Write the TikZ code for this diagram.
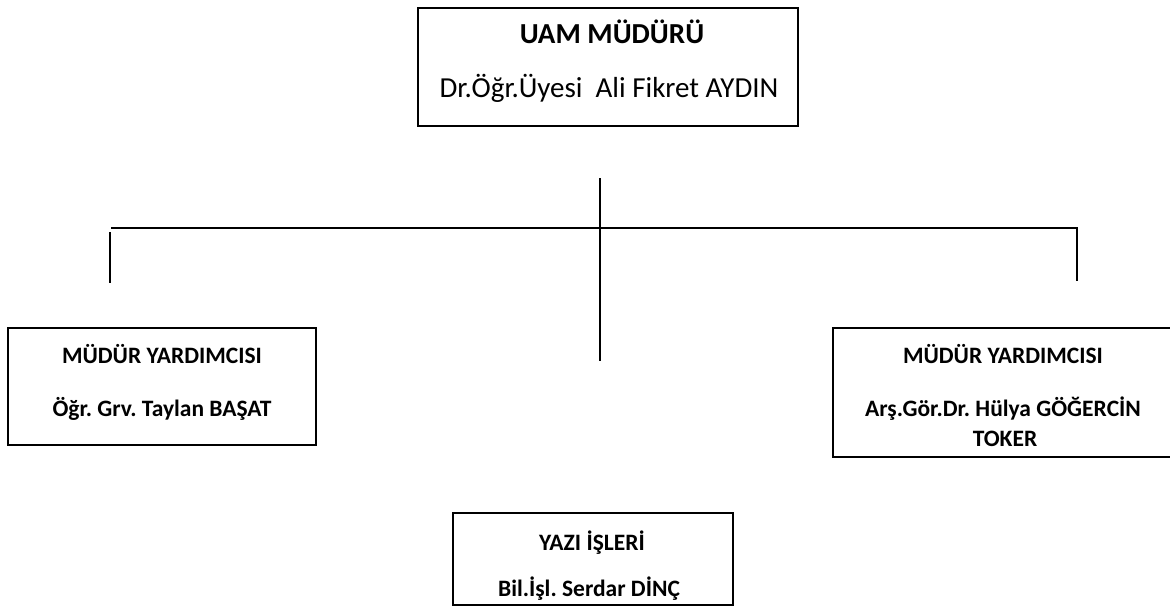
\documentclass[tikz,border=0pt]{standalone}
\usepackage{fontspec}
\setmainfont{Carlito}
\frenchspacing
\begin{document}
\begin{tikzpicture}[x=1pt,y=-1pt,
  boxshape/.style={draw=black,line width=2pt,inner sep=0pt},
  ttl/.style={font=\fontsize{29}{35}\selectfont\bfseries,anchor=base,inner sep=0pt},
  reg/.style={font=\fontsize{29}{35}\selectfont,anchor=base,inner sep=0pt},
  sub/.style={font=\fontsize{23.5}{29}\selectfont\bfseries,anchor=base,inner sep=0pt},
  link/.style={line width=2pt,black}]
\useasboundingbox (0,0) rectangle (1170,615);
% boxes
\draw[boxshape] (418,8) rectangle (798,126);
\draw[boxshape] (8,328) rectangle (316,445);
\draw[boxshape] (833,328) rectangle (1175,457);
\draw[boxshape] (453,513) rectangle (733,605);
% texts
\node[ttl] (t1) at (612,44) {UAM MÜDÜRÜ};
\node[reg] (t2) at (609,98) {Dr.Öğr.Üyesi\ \ Ali Fikret AYDIN};
\node[sub] (l1) at (162,363) {MÜDÜR YARDIMCISI};
\node[sub] (l2) at (162,416) {Öğr. Grv. Taylan BAŞAT};
\node[sub] (r1) at (1003,363) {MÜDÜR YARDIMCISI};
\node[sub] (r2) at (1003,416) {Arş.Gör.Dr. Hülya GÖĞERCİN};
\node[sub] (r3) at (1005,446) {TOKER};
\node[sub] (b1) at (592,550) {YAZI İŞLERİ};
\node[sub] (b2) at (589,596) {Bil.İşl. Serdar DİNÇ};
% connectors
\coordinate (ctop) at (600,178);
\coordinate (cbot) at (600,361);
\coordinate (hl) at (111,228);
\coordinate (hr) at (1077,228);
\coordinate (lv1) at (110,232);
\coordinate (lv2) at (110,283);
\coordinate (rv2) at (1077,281);
\draw[link] (ctop) -- (cbot);
\draw[link] (hl) -- (hr) -- (rv2);
\draw[link] (lv1) -- (lv2);
\end{tikzpicture}
\end{document}
